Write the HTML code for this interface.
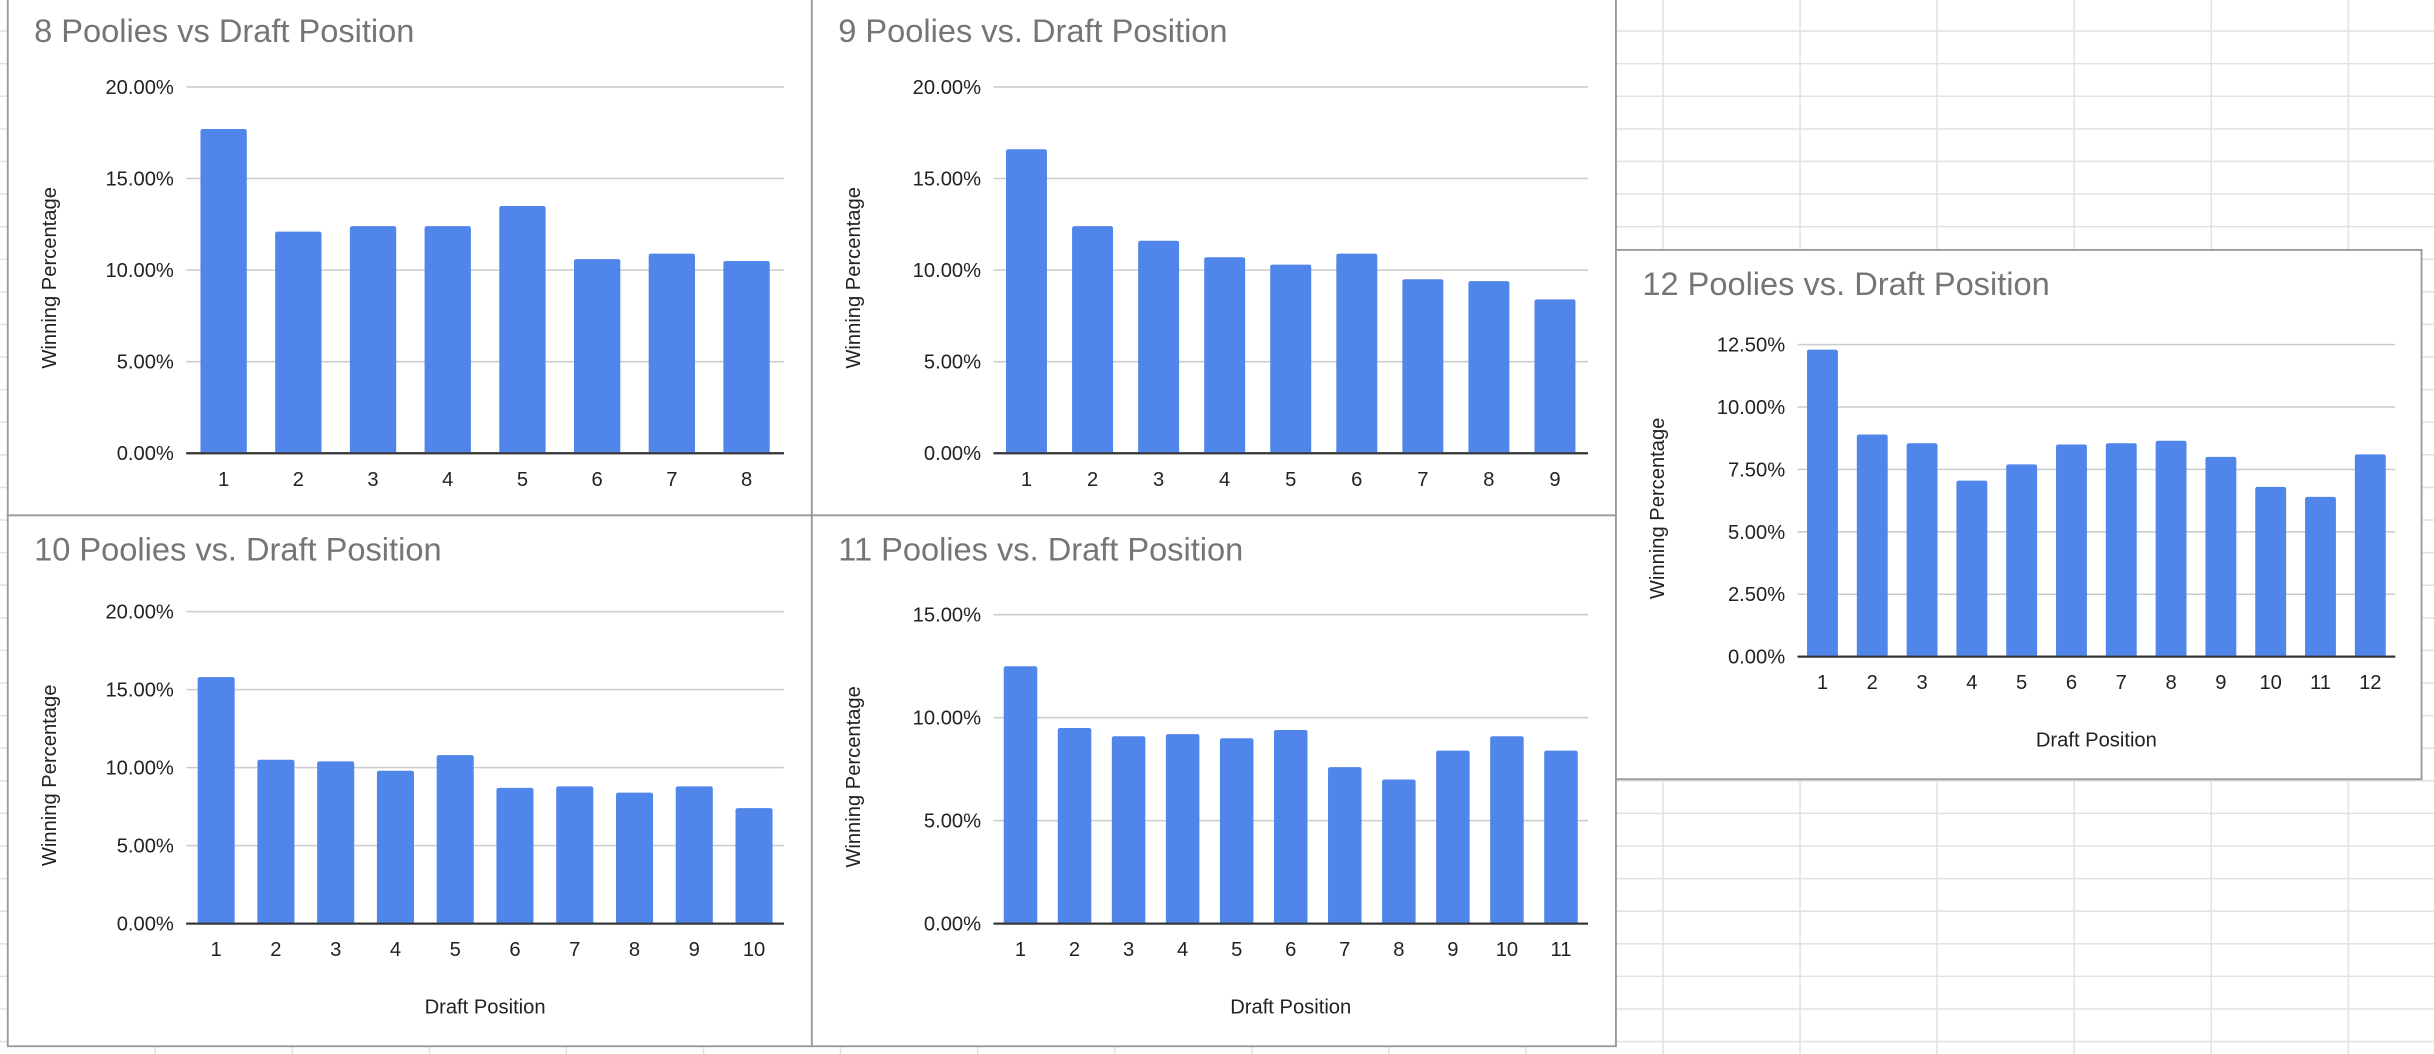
<!DOCTYPE html>
<html><head><meta charset="utf-8"><style>
html,body{margin:0;padding:0;background:#fff;}
svg{display:block;font-family:"Liberation Sans",Arial,sans-serif;}
</style></head><body>
<svg id="s" width="2434" height="1054" viewBox="0 0 1568 679" preserveAspectRatio="none">
<g id="grid"></g>
</svg>
<script>
const NS="http://www.w3.org/2000/svg";
const svg=document.getElementById('s');
const cats8=[1,2,3,4,5,6,7,8];
const vals8=[17.7,12.1,12.4,12.4,13.5,10.6,10.9,10.5];
const ticks8=[0,5,10,15,20];
const cats9=[1,2,3,4,5,6,7,8,9];
const vals9=[16.6,12.4,11.6,10.7,10.3,10.9,9.5,9.4,8.4];
const ticks9=[0,5,10,15,20];
const cats10=[1,2,3,4,5,6,7,8,9,10];
const vals10=[15.8,10.5,10.4,9.8,10.8,8.7,8.8,8.4,8.8,7.4];
const ticks10=[0,5,10,15,20];
const cats11=[1,2,3,4,5,6,7,8,9,10,11];
const vals11=[12.5,9.5,9.1,9.2,9.0,9.4,7.6,7.0,8.4,9.1,8.4];
const ticks11=[0,5,10,15];
const cats12=[1,2,3,4,5,6,7,8,9,10,11,12];
const vals12=[12.3,8.9,8.55,7.05,7.7,8.5,8.55,8.65,8.0,6.8,6.4,8.1];
const ticks12=[0,2.5,5,7.5,10,12.5];

function mk(tag,attrs,parent){const e=document.createElementNS(NS,tag);for(const k in attrs)e.setAttribute(k,attrs[k]);(parent||svg).appendChild(e);return e;}

// spreadsheet grid background
const g=document.getElementById('grid');
for(let x=100;x<1568;x+=88.3){const l=mk('line',{x1:x,y1:0,x2:x,y2:679,stroke:'#e2e2e2','stroke-width':1},g);}
for(let y=20;y<679;y+=21){const l=mk('line',{x1:0,y1:y,x2:1568,y2:y,stroke:'#e2e2e2','stroke-width':1},g);}

function chart(name,box,plot,title,cats,vals,ticks,ymax,showX){
  const grp=mk('g',{});
  
  
  const r=mk('rect',{x:box[0],y:box[1],width:box[2],height:box[3],fill:'#fff',stroke:'#9a9a9a','stroke-width':1.2},grp);
  
  
  const t=mk('text',{x:box[0]+17,y:box[1]+29,'font-size':21,fill:'#757575'},grp);
  t.textContent=title;
  
  
  const [L,T,R,B]=plot;
  const yS=v=>B-(v/ymax)*(B-T);
  const slot=(R-L)/cats.length;
  const xS=i=>L+slot*(i+0.5);
  ticks.forEach(tv=>{
    const y=yS(tv);
    const gl=mk('line',{x1:L,x2:R,y1:y,y2:y,stroke:tv===0?'#333':'#cccccc','stroke-width':tv===0?1.3:1},grp);
    
    
    const tl=mk('text',{x:L-8,y:y+4.5,'font-size':13,'text-anchor':'end',fill:'#222'},grp);
    tl.textContent=tv.toFixed(2)+'%';
    
    
  });
  const bw=slot*0.62;
  vals.forEach((v,i)=>{
    const y=yS(v);
    const b=mk('path',{d:`M${xS(i)-bw/2},${B} V${y+1.5} Q${xS(i)-bw/2},${y} ${xS(i)-bw/2+1.5},${y} H${xS(i)+bw/2-1.5} Q${xS(i)+bw/2},${y} ${xS(i)+bw/2},${y+1.5} V${B} Z`,fill:'#5085E9'},grp);
    
    
    const xl=mk('text',{x:xS(i),y:B+21,'font-size':13,'text-anchor':'middle',fill:'#222'},grp);
    xl.textContent=cats[i];
    
    
  });
  const bl=mk('line',{x1:L,x2:R,y1:B,y2:B,stroke:'#333','stroke-width':1.3},grp);
  
  
  const cy=(T+B)/2+5;
  const yt=mk('text',{x:0,y:0,'font-size':13,'text-anchor':'middle',fill:'#222',transform:`translate(${box[0]+31},${cy}) rotate(-90)`},grp);
  yt.textContent='Winning Percentage';
  
  
  if(showX){
    const xt=mk('text',{x:(L+R)/2,y:B+58,'font-size':13,'text-anchor':'middle',fill:'#222'},grp);
    xt.textContent='Draft Position';
    
    
  }
}
chart('chart-8-poolies',[5,-2,518,334],[120,56,505,292],'8 Poolies vs Draft Position',cats8,vals8,ticks8,20,false);
chart('chart-9-poolies',[523,-2,518,334],[640,56,1023,292],'9 Poolies vs. Draft Position',cats9,vals9,ticks9,20,false);
chart('chart-10-poolies',[5,332,518,342],[120,394,505,595],'10 Poolies vs. Draft Position',cats10,vals10,ticks10,20,true);
chart('chart-11-poolies',[523,332,518,342],[640,396,1023,595],'11 Poolies vs. Draft Position',cats11,vals11,ticks11,15,true);
chart('chart-12-poolies',[1041,161,519,341],[1158,222,1543,423],'12 Poolies vs. Draft Position',cats12,vals12,ticks12,12.5,true);
</script>
</body></html>
